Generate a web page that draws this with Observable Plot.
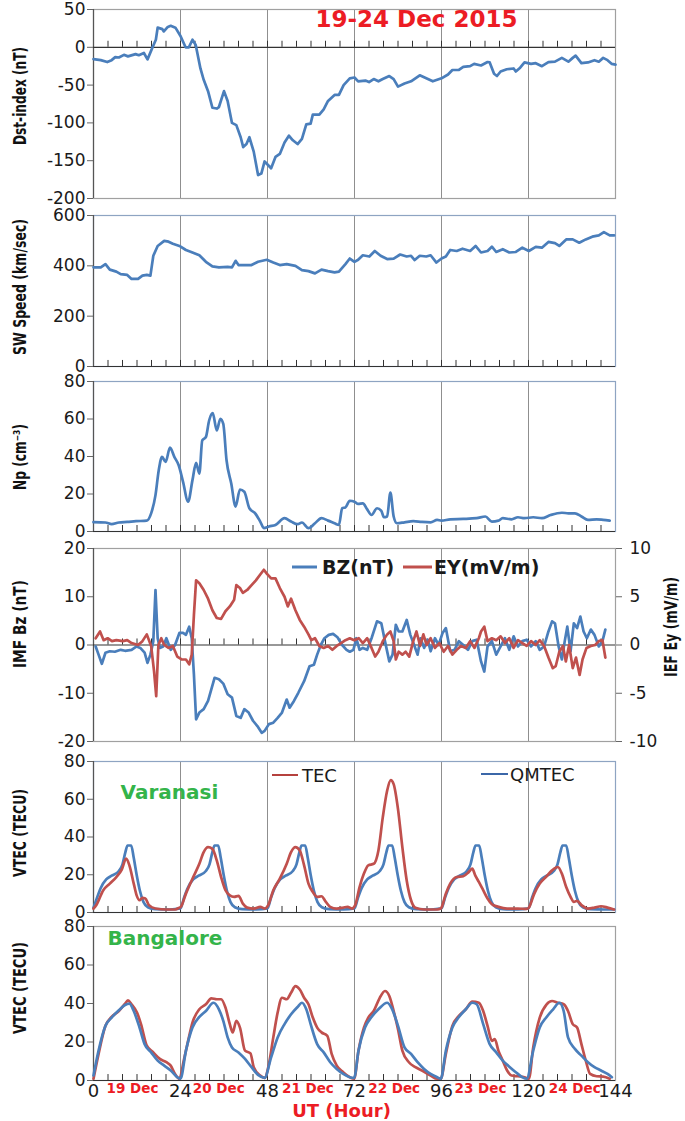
<!DOCTYPE html>
<html><head><meta charset="utf-8">
<script src="https://cdn.jsdelivr.net/npm/d3@7"></script>
<script src="https://cdn.jsdelivr.net/npm/@observablehq/plot@0.6"></script>
<style>
body{margin:0;background:#fff;}
#chart{position:relative;width:685px;height:1121px;overflow:hidden;background:#fff;}
#chart svg{position:absolute;left:0;}
</style></head><body><div id="chart"></div>
<script>
// ---------- DATA: [UT hour, value] ----------
const dst = [[0,-15.6],[2,-17],[3.8,-19.5],[5,-17],[6,-13],[7,-13.5],[8.4,-10],[9.5,-12],[10.2,-11],[11.6,-9],[12.5,-10.5],[13.9,-7.5],[14.9,-16],[16.3,0],[17.2,10],[17.7,26],[19,24],[19.4,21],[20.5,27],[21.3,28.5],[22.6,26],[24,15],[25.4,0],[26.3,0],[27.3,10],[28.2,3],[29.5,-28],[30.4,-43],[31.6,-58],[32.8,-80],[34,-81],[34.6,-79],[36,-58],[37,-71],[38.2,-100],[39.4,-103],[40.6,-119],[41.3,-132],[42.2,-128],[43,-119],[44.2,-138],[45.4,-169],[46.3,-167],[47.2,-151],[47.8,-154],[49,-160],[50.2,-145],[51.4,-141],[52.7,-126],[53.9,-117],[55,-123],[56.3,-128],[57.5,-121],[58.7,-102],[59.9,-101],[60.5,-89],[62.3,-89],[63.5,-82],[64.7,-71],[66.5,-63],[67.7,-63],[69,-50],[70.7,-41],[72,-40],[73,-45],[75,-44],[76,-46],[77.3,-42],[78.6,-45],[79.8,-42],[81.6,-38],[82.8,-42],[84,-52],[85.8,-48],[87.6,-45],[90,-37],[91.8,-41],[93.6,-45],[96,-41],[97.8,-36],[99,-30],[100.8,-30],[102,-26],[103.9,-25],[105,-22],[106.9,-24],[108.7,-19.5],[109.3,-20],[110.5,-35],[111.3,-38],[112.3,-32],[114,-29],[115.9,-28],[116.5,-32],[117.7,-27],[118.9,-20],[120.7,-22],[122,-21],[123.7,-25],[125.5,-19.5],[127.3,-19],[129.2,-14],[131,-19],[132.2,-14],[133,-11],[134.6,-21],[136.4,-20],[138.2,-17],[139.4,-19],[140.6,-14],[141.8,-17],[143,-22],[144,-23]];

const swSpeed = [[0,394],[2,394],[3.3,407],[4.5,385],[6.3,377],[7.5,367],[9.3,364],[10.5,348],[12.3,348],[13.5,361],[14.7,364],[15.7,361],[16.5,440],[17.7,479],[19.5,499],[20.7,496],[21.9,488],[23.7,479],[25.5,463],[27.3,453],[29.2,442],[31,416],[32.8,398],[34.6,394],[37,396],[38.2,394],[39.2,420],[40,403],[41.8,403],[43.6,403],[45.4,416],[47.8,424],[49.6,413],[51.4,403],[53.3,407],[55.7,400],[57.5,383],[59.3,379],[61.1,370],[62.9,385],[64.7,379],[66.5,374],[67.7,377],[69.5,407],[70.7,429],[72,416],[73,424],[74.3,442],[76.1,437],[77.6,459],[79.2,440],[81,427],[82.8,429],[84.6,445],[86.4,437],[87.6,440],[88.6,423],[90,440],[91.8,437],[93,442],[94.6,413],[96,429],[97.2,437],[98.4,463],[100.2,459],[101.8,468],[103.9,459],[105.4,479],[106.9,453],[108.7,459],[109.9,476],[111.1,455],[112.9,466],[114.7,453],[116.5,455],[118.3,472],[120.1,459],[122,475],[123.7,472],[125.5,495],[127.3,490],[128.5,479],[130.4,505],[132.2,505],[134,492],[135.8,505],[137.6,516],[139.4,521],[140.8,534],[142.4,521],[143.6,521]];

const np = [[0,5],[3.3,4.8],[5,3.9],[7,4.8],[9.3,5.1],[11.7,5.5],[14.7,5.8],[15.9,9.7],[17.1,19.4],[18,32.7],[18.9,39.8],[19.9,37.1],[21.1,44.7],[22.3,39.8],[23.5,35.3],[24.7,26.5],[26.1,15.9],[27.3,27.4],[28.3,36.6],[29.2,30.9],[30,48.6],[31,50.4],[31.9,59.2],[32.9,63.1],[34,53.9],[35,60.1],[35.8,57.4],[36.7,38],[38,25.6],[39.2,13.3],[40.4,22.4],[41.6,21.2],[43,12.4],[44.6,9.7],[46,5.3],[47,1.8],[48.4,2.7],[50.2,3.5],[52.7,7.1],[54.5,5.3],[56.3,3.9],[57.5,4.8],[59.3,1.8],[61.1,4.4],[62.9,7.1],[64.7,5.8],[66.5,4.4],[67.7,3.5],[68.6,12.4],[69.5,12.9],[70.7,16.4],[72,15.9],[73,14.7],[74.3,15],[75.5,11.8],[76.7,8.8],[78.2,12.4],[79.4,11],[80.1,7.6],[81,8],[81.9,20.7],[82.8,8],[83.7,4.4],[85.8,4.9],[88.2,5.5],[90.6,5.1],[93,4.9],[94.8,6.2],[96,5.8],[98.4,6.5],[102,6.7],[105.7,7.1],[108.1,8],[109.9,5.3],[111.7,5.8],[112.9,7.1],[115.3,6.5],[117.1,7.6],[118.9,7.1],[121.3,7.6],[123.7,7.1],[126.1,8.8],[129.2,10],[131,9.7],[132.8,9.7],[134.6,8],[136.4,6.2],[138.8,6.5],[140.6,6.2],[142.4,5.8]];

const bz = [[0.6,-0.3],[1.4,-2],[2.3,-3.9],[3.3,-1.6],[4.5,-1.3],[5.9,-1.4],[7.5,-1],[8.7,-1.2],[10.5,-1],[11.9,-0.3],[12.9,-0.6],[14.1,-1.6],[14.9,-3.7],[15.7,-2],[16.5,0.8],[17.1,11.4],[17.7,1.4],[18.3,-0.6],[19.2,-0.3],[20.1,1.4],[21.3,-1],[22.5,0],[23.7,2.5],[24.7,2.5],[25.5,2.1],[26.4,3.8],[27.1,1.4],[27.7,-6.1],[28.3,-15.4],[29.2,-14],[30.4,-13.3],[31.6,-11.6],[32.5,-9.2],[33.4,-6.8],[34.6,-7.1],[35.8,-8],[37,-10.2],[38.2,-10.9],[39.4,-14.7],[40.6,-15.1],[41.6,-13.3],[42.8,-14],[44,-15.7],[45.2,-16.8],[46.4,-18.2],[47.2,-17.8],[48.4,-16.4],[49.6,-16.1],[50.8,-15.1],[52,-14],[53.3,-11.3],[54.1,-13],[55.3,-11.6],[56.5,-9.9],[58.1,-7.5],[59.6,-4.4],[60.8,-4.1],[61.7,-2],[62.7,0],[63.7,1.4],[64.9,2.1],[66.1,2.3],[67.3,1.6],[68.6,0],[69.8,-1],[70.7,-1.4],[71.7,-1],[72.5,1.4],[73.4,-1],[74.3,-0.6],[75.5,-1],[76.7,1.4],[78.2,4.9],[79.4,4.5],[80.4,0.8],[81.6,-3.4],[82.5,-2],[83.4,4.2],[84.2,2.8],[85.2,2.8],[86.4,5.2],[87.4,2.1],[88.6,-0.3],[89.4,-2],[90.2,1.4],[91.2,-0.6],[92.2,1.1],[93,-1.3],[94.2,1.4],[95.2,0],[96.3,2.5],[97.2,3.5],[98.4,-1.3],[99.6,-1],[100.8,0.8],[102,0],[103.3,-1],[104.5,0.8],[105.7,1.1],[106.9,-3.4],[107.8,-5.5],[108.7,-0.3],[109.9,0.8],[111.1,-2],[112.3,-0.3],[113.5,1.4],[114.7,-1],[115.9,1.8],[117.1,-0.3],[118.3,0.8],[119.5,1.1],[120.7,-0.3],[122,0.8],[123.1,-1],[124.3,-0.3],[125.5,2.8],[126.5,4.9],[127.3,4.5],[128.3,-0.3],[129.2,-3],[130,0.8],[130.7,3.8],[131.6,-1.3],[132.5,4.5],[133.4,3.5],[134.3,5.9],[135.2,2.8],[136.1,1.4],[137.2,3.2],[138.2,2.1],[139.4,-0.3],[140.4,0.8],[141.2,3.2]];

// IEF Ey in mV/m (right axis)
const ey = [[0.6,0.7],[1.8,1.4],[2.8,0.5],[3.9,0.7],[5.1,0.4],[6.3,0.5],[8.1,0.4],[9.3,0.5],[10.5,0.2],[12.3,0],[13.5,0.4],[14.7,1.1],[15.9,-0.1],[16.7,-2.7],[17.3,-5.3],[17.9,0],[18.7,0.7],[19.5,0],[20.7,-0.3],[21.9,-0.1],[23.1,-1.2],[24.3,-1.5],[25.5,-1.5],[26.4,-2],[27.1,-1],[27.7,3.1],[28.3,6.7],[29.2,6.4],[30.4,5.7],[31.6,4.8],[32.8,3.6],[34,2.8],[35.2,2.7],[36.4,3.5],[37.6,4],[38.8,4.7],[39.4,6.2],[40.4,5.9],[41.2,5.4],[42.4,5.7],[43.6,6.2],[44.8,6.7],[46,7.3],[47,7.8],[47.8,7.4],[49,6.9],[50.2,6.9],[51.4,5.9],[52.7,5],[53.6,4],[54.5,4.8],[55.7,3.6],[56.9,2.6],[58.1,1.9],[59.3,1.1],[60.1,0.5],[61.1,0.7],[62.3,-0.1],[63.5,-0.3],[64.7,-0.1],[65.9,-0.5],[67.1,-0.1],[68.3,0.2],[69.5,0.5],[70.7,0.7],[71.9,0.5],[73.2,0.7],[74.3,0.2],[75.5,0.7],[76.7,-0.3],[77.7,-1.2],[78.6,-0.7],[79.8,0.4],[81,1.1],[81.9,1.4],[82.8,0.4],[83.4,-1.5],[84.2,-0.7],[85.2,-1],[86.1,-0.7],[87.1,-1.2],[88.2,0.4],[89.1,1.4],[90.1,-0.1],[91,1.1],[91.9,0],[93,0.7],[94.2,-0.3],[95.4,0.2],[96.6,-0.7],[97.8,-0.1],[99,-1],[100.2,-0.5],[101.4,-0.1],[102.7,-0.3],[103.9,0.4],[105.1,-0.3],[106.3,0.7],[106.9,1.4],[107.8,1.9],[108.7,0.4],[109.9,0.7],[111.1,0.5],[112.3,0.9],[113.5,0.2],[114.7,0.7],[115.9,-0.3],[117.1,0.5],[118.3,0.2],[119.5,-0.1],[120.7,0.4],[122,0],[123.1,0.5],[124.3,-0.1],[125.5,-1.3],[126.7,-2.4],[127.5,-2.2],[128.5,-0.7],[129.5,-0.1],[130.3,-1.7],[131.2,0],[132.2,-2.4],[133.1,-1.3],[134.1,-3.1],[134.9,-1.5],[136,-0.3],[137.2,-0.1],[138.4,0],[139.4,0.4],[140.4,0.5],[141.2,-1.3]];

const varanasiTec = [[0,2],[0.8,4],[2.7,11.8],[4.5,15.3],[6.3,18.8],[7.8,22.7],[9,28.5],[9.9,25],[11.1,15.3],[11.9,9.1],[12.7,6.5],[13.5,7.7],[14.3,7.4],[15.3,3.9],[17.1,2.1],[20.1,1.6],[22.5,1.6],[23.7,2.6],
[24.1,3],[25.5,10],[27.3,17.9],[29.2,25.8],[30.4,32],[31.6,34.6],[32.8,33.7],[34,27.6],[35.2,18.8],[36.4,11.8],[37.6,9.1],[38.8,8.3],[40,8.8],[41.2,4.7],[42.4,2.6],[44.2,2.1],[46,3],[47.2,2.1],
[48.2,3.9],[49.6,11.8],[51.4,17.9],[53.3,25.8],[54.5,32],[55.7,34.6],[56.9,32.9],[58.1,25],[59.3,15.3],[60.5,10.9],[61.7,8.3],[62.9,8.6],[64.1,5.6],[65.3,3],[67.1,2.1],[68.9,2.6],[70.1,3],[71.3,2.1],
[72.2,3.9],[73.4,13.5],[74.6,20.6],[75.8,25],[77.3,25.8],[78.6,32.9],[79.8,50.4],[81,64.5],[82,70.1],[82.8,68],[84,54.8],[85.2,34.6],[86.4,17],[87.6,6.5],[88.8,2.5],[91.2,1.6],[94.8,1.6],[95.8,2.1],
[96,2.6],[97.2,10],[98.4,15.3],[100.2,18.8],[102,19.2],[103.5,21.4],[104.5,23.2],[105.3,19.7],[106.3,16.2],[107.5,11.8],[108.7,7.4],[109.9,4.4],[111.7,3],[114.1,2.1],[117.1,2.1],[119.5,1.9],
[120.1,2.6],[121.6,10],[123.1,15.3],[125,19.2],[126.5,22.3],[128.1,24.1],[129.2,20.6],[130.4,13.5],[131.6,8.3],[132.5,5.6],[133.4,6.2],[134.6,3.9],[136.4,2.1],[138.2,2.6],[140,3.3],[141.8,2.6],[143.6,1.6]];

const varanasiQm = [[0,2.5],[1,8],[2,13],[3.5,17.5],[5,19.5],[7,22],[8,25.5],[8.8,32],[9.4,35.5],[10.4,35.5],[11.1,29],[11.9,20],[12.8,11.5],[13.8,5.5],[15,2.8],[17,1.8],[21,1.6],
[24,2.2],[25,8],[26,13],[27.5,17.5],[29,19.5],[31,22],[32,25.5],[32.8,32],[33.4,35.5],[34.4,35.5],[35.1,29],[35.9,20],[36.8,11.5],[37.8,5.5],[39,2.8],[41,1.8],[45,1.6],
[48,2.2],[49,8],[50,13],[51.5,17.5],[53,19.5],[55,22],[56,25.5],[56.8,32],[57.4,35.5],[58.4,35.5],[59.1,29],[59.9,20],[60.8,11.5],[61.8,5.5],[63,2.8],[65,1.8],[69,1.6],
[72,2.2],[73,8],[74,13],[75.5,17.5],[77,19.5],[79,22],[80,25.5],[80.8,32],[81.4,35.5],[82.4,35.5],[83.1,29],[83.9,20],[84.8,11.5],[85.8,5.5],[87,2.8],[89,1.8],[93,1.6],
[96,2.2],[97,8],[98,13],[99.5,17.5],[101,19.5],[103,22],[104,25.5],[104.8,32],[105.4,35.5],[106.4,35.5],[107.1,29],[107.9,20],[108.8,11.5],[109.8,5.5],[111,2.8],[113,1.8],[117,1.6],
[120,2.2],[121,8],[122,13],[123.5,17.5],[125,19.5],[127,22],[128,25.5],[128.8,32],[129.4,35.5],[130.4,35.5],[131.1,29],[131.9,20],[132.8,11.5],[133.8,5.5],[135,2.8],[137,1.8],[141,1.6],[143.6,1.6]];

const bangaloreTec = [[0,0.9],[1.4,13.8],[3.3,28.4],[5,33],[7,36.1],[8.7,39.9],[9.5,41.6],[10.5,39.6],[12,35.3],[13.1,29.3],[14.7,18.1],[16.5,14.6],[18.3,11.2],[20.1,9.5],[21.3,7.7],[22.5,3.4],[23.7,0.9],
[24.9,10.3],[26.1,20.6],[27.3,30.1],[29.2,37],[31,39.6],[32.5,42.7],[34,42.2],[35.2,42.2],[36.4,37.9],[37.6,29.3],[38.4,25],[39.4,31],[40.4,27.5],[41.8,15.5],[43.3,14.1],[44.2,6.9],[46,2.6],[47.2,1.4],
[48.4,8.6],[49.6,22.4],[50.8,35.3],[52,43],[53.3,42.2],[54.5,45.6],[55.7,49],[56.9,47.3],[58.1,43],[59.3,39.6],[60.5,32.7],[61.7,27.5],[62.9,25],[64.5,23.2],[65.7,13.8],[67.1,7.7],[68.9,4.3],[70.7,1.7],[71.9,0.9],
[73.1,15.5],[74.6,27.5],[75.8,32.7],[77.3,36.1],[78.9,42.7],[80.4,46.5],[81.6,43.9],[82.8,36.1],[84,26.7],[85.2,15.5],[87,9.5],[88.8,6.9],[90.6,5.2],[93,2.6],[94.8,0.9],[95.8,0.9],
[97.2,13.8],[99,28.4],[100.8,33.6],[102.7,37],[104.5,41],[106.3,40.4],[107.5,36.1],[108.7,28.4],[109.9,20.6],[110.7,21.5],[111.7,15.5],[112.9,10.3],[114.1,5.2],[115.3,2.6],[117.1,2.2],[118.9,1.7],[120.1,0.9],
[121.3,17.2],[123.1,32.7],[125,39.6],[126.5,41.3],[128.1,40.4],[129.7,39.6],[130.9,36.1],[132.2,29.3],[133.4,27.5],[134.6,18.9],[135.8,10.3],[137,3.4],[138.8,2.2],[140.6,2],[142.4,0.9]];

const bangaloreQm = [[0,2.6],[1.4,15.5],[3.3,28.4],[5,32.7],[7,36.5],[8.7,39.2],[9.9,39.9],[11.1,36.1],[12.7,27.5],[14.1,18.9],[15.9,14.6],[17.7,10.3],[19.5,7.7],[21.3,5.2],[23.1,1.7],[24,0.9],
[25.5,15.5],[27.3,27.5],[29.2,33],[31,36.1],[33.1,40.4],[34.6,37],[35.8,31],[37,22.4],[38.2,17.2],[40,14.6],[41.8,11.2],[43.6,6.9],[45.4,2.9],[47.2,1.4],
[49,12],[50.8,22.4],[52.7,29.3],[54.5,34.4],[56.3,38.2],[57.5,40.4],[58.7,37],[59.9,29.3],[61.7,18.9],[63.5,14.6],[65.3,9.5],[67.1,6],[68.9,3.4],[70.7,1.7],[71.9,1.4],
[73.1,15.5],[74.9,27.5],[76.7,33],[78.6,37],[81,40.4],[82.2,37.8],[84,28.4],[85.8,17.2],[87.6,13.8],[89.4,9.5],[91.2,6],[93,3.4],[94.8,1.7],[95.8,0.9],
[97.2,15.5],[99,27.5],[100.8,33],[102.7,37],[104.5,40.4],[105.7,39.6],[107.5,29.3],[109.3,18.9],[111.1,14.6],[112.9,10.3],[114.7,7.2],[116.5,4.3],[118.3,1.7],[119.5,0.9],
[121.3,15.5],[123.1,27.5],[125,33],[126.8,37],[128.5,40.4],[129.7,36.1],[130.9,22.4],[132.8,16.4],[134.6,12.9],[136.4,9.5],[138.2,6.9],[140,5.2],[141.8,3.4],[143,1.7]];

// ---------- ticks & labels ----------
const dayGrid = [24, 48, 72, 96, 120];
const minorTicks = [4,8,12,16,20,24,28,32,36,40,44,48,52,56,60,64,68,72,76,80,84,88,92,96,100,104,108,112,116,120,124,128,132,136,140];
const hourTicks = [0, 24, 48, 72, 96, 120, 144];
const dayLabels = ["19 Dec", "20 Dec", "21 Dec", "22 Dec", "23 Dec", "24 Dec"];
const dayLabelHour = [3.6, 27.4, 52, 75.8, 99.6, 125.6];
const dstTicks = [50, 0, -50, -100, -150, -200];
const swTicks = [0, 200, 400, 600];
const npTicks = [0, 20, 40, 60, 80];
const bzTicks = [-20, -10, 0, 10, 20];
const eyTicks = [-10, -5, 0, 5, 10];
const tecTicks = [0, 20, 40, 60, 80];

// ---------- styling ----------
const BLUE = "#4a7ebb", RED = "#c0504d", TITLE_RED = "#ec1c24", GREEN = "#34b44a";
const W = 685, ML = 93, MR = 70;
const TICKFONT = "DejaVu Sans", TICKSIZE = 17;
const chart = document.getElementById("chart");
const X = d => d[0], Y = d => d[1];

function panel(cfg) {
  const marks = [
    Plot.ruleX(dayGrid, {stroke: "#8f8f8f", strokeWidth: 1}),
    Plot.frame({stroke: cfg.frame || "#a0a0a0", strokeWidth: 1.2}),
    Plot.ruleX([0], {stroke: "#555", strokeWidth: 1.2}),
    Plot.ruleY([cfg.tickBase], {stroke: "#333", strokeWidth: 1.2}),
    Plot.ruleX(minorTicks, {y1: cfg.tickBase, y2: cfg.tickBase + cfg.tickLen, stroke: "#333"}),
    Plot.axisY({ticks: cfg.yTicks, tickSize: 6, tickPadding: 2, tickFormat: d => String(d),
      fontSize: TICKSIZE, fontFamily: TICKFONT, label: null, stroke: "#666"}),
    ...cfg.marks
  ];
  const svg = Plot.plot({
    width: W, height: cfg.height,
    marginLeft: ML, marginRight: MR, marginTop: cfg.mt, marginBottom: cfg.mb,
    x: {domain: [0, 144], axis: cfg.xAxis ? undefined : null},
    y: {domain: cfg.yDomain},
    style: {fontFamily: TICKFONT, color: "#1a1a1a", background: "transparent", overflow: "visible"},
    marks
  });
  svg.style.top = cfg.top + "px";
  chart.append(svg);
  vTitle(svg, cfg.title, 20, cfg.titleY - cfg.top, cfg.titleLen);
  return svg;
}

function vTitle(svg, label, cx, cy, len) {
  d3.select(svg).append("text")
    .attr("transform", `translate(${cx},${cy}) rotate(-90)`)
    .attr("text-anchor", "middle").attr("dominant-baseline", "central")
    .attr("font-family", "DejaVu Sans").attr("font-weight", "bold").attr("font-size", 17)
    .attr("fill", "#111")
    .attr("textLength", len).attr("lengthAdjust", "spacingAndGlyphs")
    .text(label);
}

function legend(svg, items) {
  const g = d3.select(svg).append("g");
  for (const it of items) {
    g.append("line").attr("x1", it.x1).attr("x2", it.x2).attr("y1", it.y).attr("y2", it.y)
      .attr("stroke", it.color).attr("stroke-width", it.sw || 3);
    g.append("text").attr("x", it.tx).attr("y", it.y).attr("dominant-baseline", "central")
      .attr("text-anchor", "start")
      .attr("font-family", "DejaVu Sans").attr("font-size", it.fs || 18)
      .attr("font-weight", it.bold ? "bold" : "normal").attr("fill", "#1a1a1a").text(it.label);
  }
}

// Panel 1: Dst
panel({top: 0, height: 205, mt: 9, mb: 7, yDomain: [-200, 50], yTicks: dstTicks,
  tickBase: 0, tickLen: 8, title: "Dst-index (nT)", titleY: 96, titleLen: 98,
  marks: [
    Plot.line(dst, {x: X, y: Y, stroke: BLUE, strokeWidth: 2.7}),
    Plot.text(["19-24 Dec 2015"], {frameAnchor: "top", lineAnchor: "middle", dx: 62, dy: 10, fill: TITLE_RED,
      fontWeight: "bold", fontSize: 23, fontFamily: "DejaVu Sans"})
  ]});

// Panel 2: SW speed
panel({top: 205, height: 166, mt: 10, mb: 5, yDomain: [0, 600], yTicks: swTicks, frame: "#8ea4c2",
  tickBase: 0, tickLen: 24, title: "SW Speed (km/sec)", titleY: 287, titleLen: 136,
  marks: [Plot.line(swSpeed, {x: X, y: Y, stroke: BLUE, strokeWidth: 2.7})]});

// Panel 3: Np
panel({top: 371, height: 165, mt: 10, mb: 5, yDomain: [0, 80], yTicks: npTicks, frame: "#8ea4c2",
  tickBase: 0, tickLen: 3.2, title: "Np (cm\u207B\u00B3)", titleY: 457, titleLen: 66,
  marks: [Plot.line(np, {x: X, y: Y, stroke: BLUE, strokeWidth: 2.7, curve: "monotone-x"})]});

// Panel 4: IMF Bz & IEF Ey
const p4 = panel({top: 536, height: 210, mt: 12, mb: 5, yDomain: [-20, 20], yTicks: bzTicks,
  tickBase: 0, tickLen: 1.25, title: "IMF Bz (nT)", titleY: 624, titleLen: 88,
  marks: [
    Plot.line(bz, {x: X, y: Y, stroke: BLUE, strokeWidth: 2.7}),
    Plot.line(ey, {x: X, y: d => d[1] * 2, stroke: RED, strokeWidth: 2.7}),
    Plot.axisY({anchor: "right", ticks: eyTicks.map(v => v * 2), tickFormat: d => String(d / 2),
      tickSize: 6, tickPadding: 8, fontSize: TICKSIZE, fontFamily: TICKFONT, label: null, stroke: "#666"})
  ]});
vTitle(p4, "IEF Ey (mV/m)", 671, 627 - 536, 100);
legend(p4, [
  {x1: 292, x2: 317, y: 31, color: BLUE, label: "BZ(nT)", tx: 322, bold: true, fs: 19},
  {x1: 403, x2: 432, y: 31, color: RED, label: "EY(mV/m)", tx: 434, bold: true, fs: 19}
]);

// Panel 5: Varanasi VTEC
const p5 = panel({top: 746, height: 170, mt: 15, mb: 4, yDomain: [0, 80], yTicks: tecTicks, frame: "#8ea4c2",
  tickBase: 0, tickLen: 3.2, title: "VTEC (TECU)", titleY: 833, titleLen: 88,
  marks: [
    Plot.line(varanasiQm, {x: X, y: Y, stroke: BLUE, strokeWidth: 2.7, curve: "monotone-x"}),
    Plot.line(varanasiTec, {x: X, y: Y, stroke: RED, strokeWidth: 2.7, curve: "monotone-x"}),
    Plot.text(["Varanasi"], {frameAnchor: "top-left", lineAnchor: "middle", dx: 27, dy: 31, textAnchor: "start",
      fill: GREEN, fontWeight: "bold", fontSize: 20, fontFamily: "DejaVu Sans"})
  ]});
legend(p5, [
  {x1: 272, x2: 298, y: 29, color: "#b5413e", sw: 2, label: "TEC", tx: 302, fs: 18},
  {x1: 481, x2: 508, y: 28, color: "#3b67a8", sw: 2, label: "QMTEC", tx: 510, fs: 18}
]);

// Panel 6: Bangalore VTEC
panel({top: 916, height: 205, mt: 10, mb: 41, yDomain: [0, 80], yTicks: tecTicks, xAxis: true,
  tickBase: 0, tickLen: 3.1, title: "VTEC (TECU)", titleY: 988, titleLen: 92,
  marks: [
    Plot.line(bangaloreTec, {x: X, y: Y, stroke: RED, strokeWidth: 2.7, curve: "monotone-x"}),
    Plot.line(bangaloreQm, {x: X, y: Y, stroke: BLUE, strokeWidth: 2.7, curve: "monotone-x"}),
    Plot.axisX({ticks: hourTicks, tickSize: 0, tickPadding: 4, tickFormat: d => String(d),
      fontSize: 18, fontFamily: TICKFONT, label: null}),
    Plot.text(dayLabels, {x: dayLabelHour, frameAnchor: "bottom", lineAnchor: "middle", dy: 8, textAnchor: "start",
      fill: TITLE_RED, fontWeight: "bold", fontSize: 13.5, fontFamily: "DejaVu Sans"}),
    Plot.text(["UT (Hour)"], {frameAnchor: "bottom", lineAnchor: "middle", dx: -13, dy: 31, fill: TITLE_RED,
      fontWeight: "bold", fontSize: 18, fontFamily: "DejaVu Sans"}),
    Plot.text(["Bangalore"], {frameAnchor: "top-left", lineAnchor: "middle", dx: 14, dy: 12, textAnchor: "start",
      fill: GREEN, fontWeight: "bold", fontSize: 20, fontFamily: "DejaVu Sans"})
  ]});
</script></body></html>
